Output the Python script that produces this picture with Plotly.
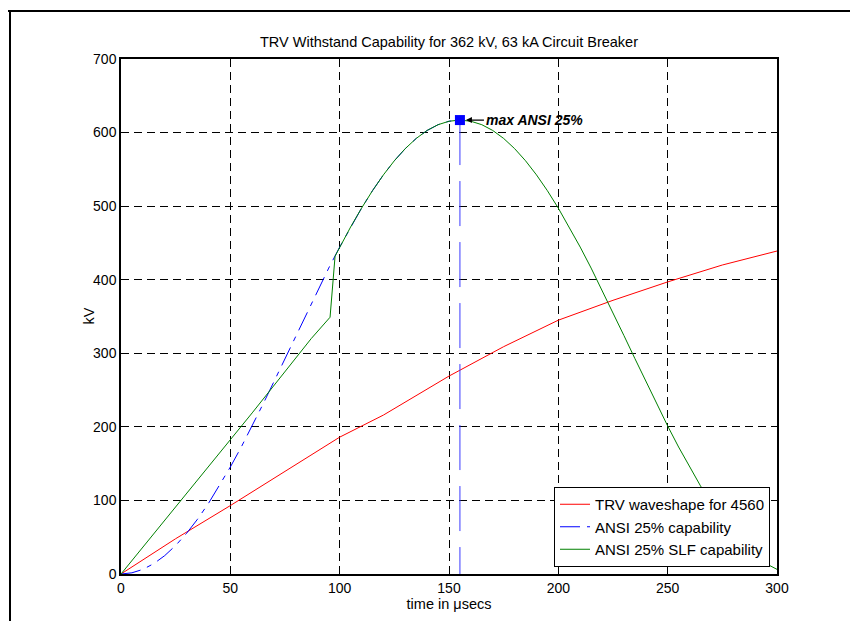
import plotly.graph_objects as go

# ---- data (kV versus time in microseconds) ----
trv_t = [0, 10, 25, 50, 75, 100, 120, 150, 175, 200, 225, 250, 275, 300]
trv_kv = [0, 19, 48, 93, 140, 186, 216, 269, 309, 345, 372, 397, 420, 439]

ansi_t = [0, 5, 10, 15, 20, 25, 30, 35, 40, 45, 50, 55, 60, 65, 70, 75, 80,
          85, 90, 95, 100, 105, 110, 115, 120, 125, 130, 135, 140, 145, 150, 155]
ansi_kv = [0, 1.6, 6.3, 14.1, 25.0, 38.8, 55.3, 74.5, 96.0, 119.8, 145.4, 172.6,
           201.2, 231.2, 261.8, 292.9, 324.1, 355.2, 385.8, 415.8, 444.4, 471.6,
           497.2, 521.0, 542.5, 561.7, 578.2, 592.0, 602.9, 610.7, 615.4, 617.0]

# drop from the capability peak back to zero
peak_t = [155, 155]
peak_kv = [617, 0]

slf_t = [0, 30, 60, 87, 95.6, 97.9, 100, 105, 110, 115, 120, 125, 130, 135, 140,
         145, 150, 155, 160, 165, 170, 175, 180, 185, 190, 195, 200, 205, 210,
         215, 220, 225, 230, 235, 240, 245, 250, 255, 260, 265, 270, 275, 280,
         285, 290, 295, 300]
slf_kv = [0, 110, 219, 320, 349, 432, 444.4, 471.6, 497.2, 521.0, 542.5, 561.7,
          578.2, 592.0, 602.9, 610.7, 615.4, 617.0, 615.4, 610.7, 602.9, 592.0,
          578.2, 561.7, 542.5, 521.0, 497.2, 471.6, 444.4, 415.8, 385.8, 355.2,
          324.1, 292.9, 261.8, 231.2, 201.2, 172.6, 145.4, 119.8, 96.0, 74.5,
          55.3, 38.8, 25.0, 14.1, 6.3]

max_t = [155]
max_kv = [617]

x_ticks = [0, 50, 100, 150, 200, 250, 300]
y_ticks = [0, 100, 200, 300, 400, 500, 600, 700]

FONT = "Arial, 'Liberation Sans', Helvetica, sans-serif"
W, H = 850, 621
L, R, T, B = 121, 777, 59, 574  # plot area in pixels


def px_x(p):
    return (p - L) / (R - L)


def px_y(p):
    return (B - p) / (B - T)


fig = go.Figure()

fig.add_trace(go.Scatter(x=trv_t, y=trv_kv, mode="lines",
                         name="TRV waveshape for 4560",
                         line=dict(color="#ff0000", width=1)))
fig.add_trace(go.Scatter(x=ansi_t, y=ansi_kv, mode="lines",
                         name="ANSI 25% capability",
                         line=dict(color="#0000ff", width=1,
                                   dash="20px,7px,5px,7px")))
fig.add_trace(go.Scatter(x=peak_t, y=peak_kv, mode="lines", showlegend=False,
                         line=dict(color="#3a3aff", width=1, dash="45px,16px")))
fig.add_trace(go.Scatter(x=slf_t, y=slf_kv, mode="lines",
                         name="ANSI 25% SLF capability",
                         line=dict(color="#008000", width=1)))
fig.add_trace(go.Scatter(x=max_t, y=max_kv, mode="markers", showlegend=False,
                         marker=dict(symbol="square", size=10, color="#0000ff",
                                     line=dict(width=0))))

fig.add_annotation(x=max_t[0], y=max_kv[0], text="<b><i>max ANSI 25%</i></b>",
                   showarrow=True, ax=24, ay=0, xanchor="left",
                   arrowhead=2, arrowsize=1, arrowwidth=1.2, arrowcolor="black",
                   standoff=6, font=dict(family=FONT, size=14, color="black"))

# y-axis label
fig.add_annotation(xref="paper", yref="paper", x=px_x(88), y=0.5,
                   text="kV", textangle=-90, showarrow=False,
                   xanchor="center", yanchor="middle",
                   font=dict(family=FONT, size=14.5, color="black"))

# outer frame lines (top and left)
fig.add_shape(type="line", xref="paper", yref="paper",
              x0=px_x(8), x1=px_x(W), y0=px_y(11), y1=px_y(11),
              line=dict(color="black", width=2))
fig.add_shape(type="line", xref="paper", yref="paper",
              x0=px_x(10), x1=px_x(10), y0=px_y(11), y1=px_y(H),
              line=dict(color="black", width=2))

axis_common = dict(
    showline=True, linecolor="black", linewidth=1.5, mirror="ticks",
    ticks="inside", ticklen=5, tickcolor="black", tickwidth=1,
    showgrid=True, gridcolor="black", gridwidth=1, griddash="8px,5px",
    zeroline=False, tickfont=dict(family=FONT, size=14, color="black"),
)

fig.update_xaxes(range=[0, 300], tickvals=x_ticks,
                 title=dict(text="time in μsecs", standoff=4,
                            font=dict(family=FONT, size=14.5, color="black")),
                 **axis_common)
fig.update_yaxes(range=[0, 700], tickvals=y_ticks, **axis_common)

fig.update_layout(
    width=W, height=H,
    margin=dict(l=L, r=W - R, t=T, b=H - B),
    paper_bgcolor="white", plot_bgcolor="white",
    font=dict(family=FONT, size=14, color="black"),
    title=dict(text="TRV Withstand Capability for 362 kV, 63 kA Circuit Breaker",
               x=0.5 * (L + R) / W, xanchor="center",
               y=1 - 42 / H, yanchor="middle", yref="container",
               font=dict(family=FONT, size=14.5, color="black")),
    legend=dict(x=px_x(770), y=px_y(567), xanchor="right", yanchor="bottom",
                bgcolor="white", bordercolor="black", borderwidth=1,
                font=dict(family=FONT, size=15, color="black"),
                tracegroupgap=0, itemwidth=30),
    showlegend=True,
)

fig.write_html("out.html")
